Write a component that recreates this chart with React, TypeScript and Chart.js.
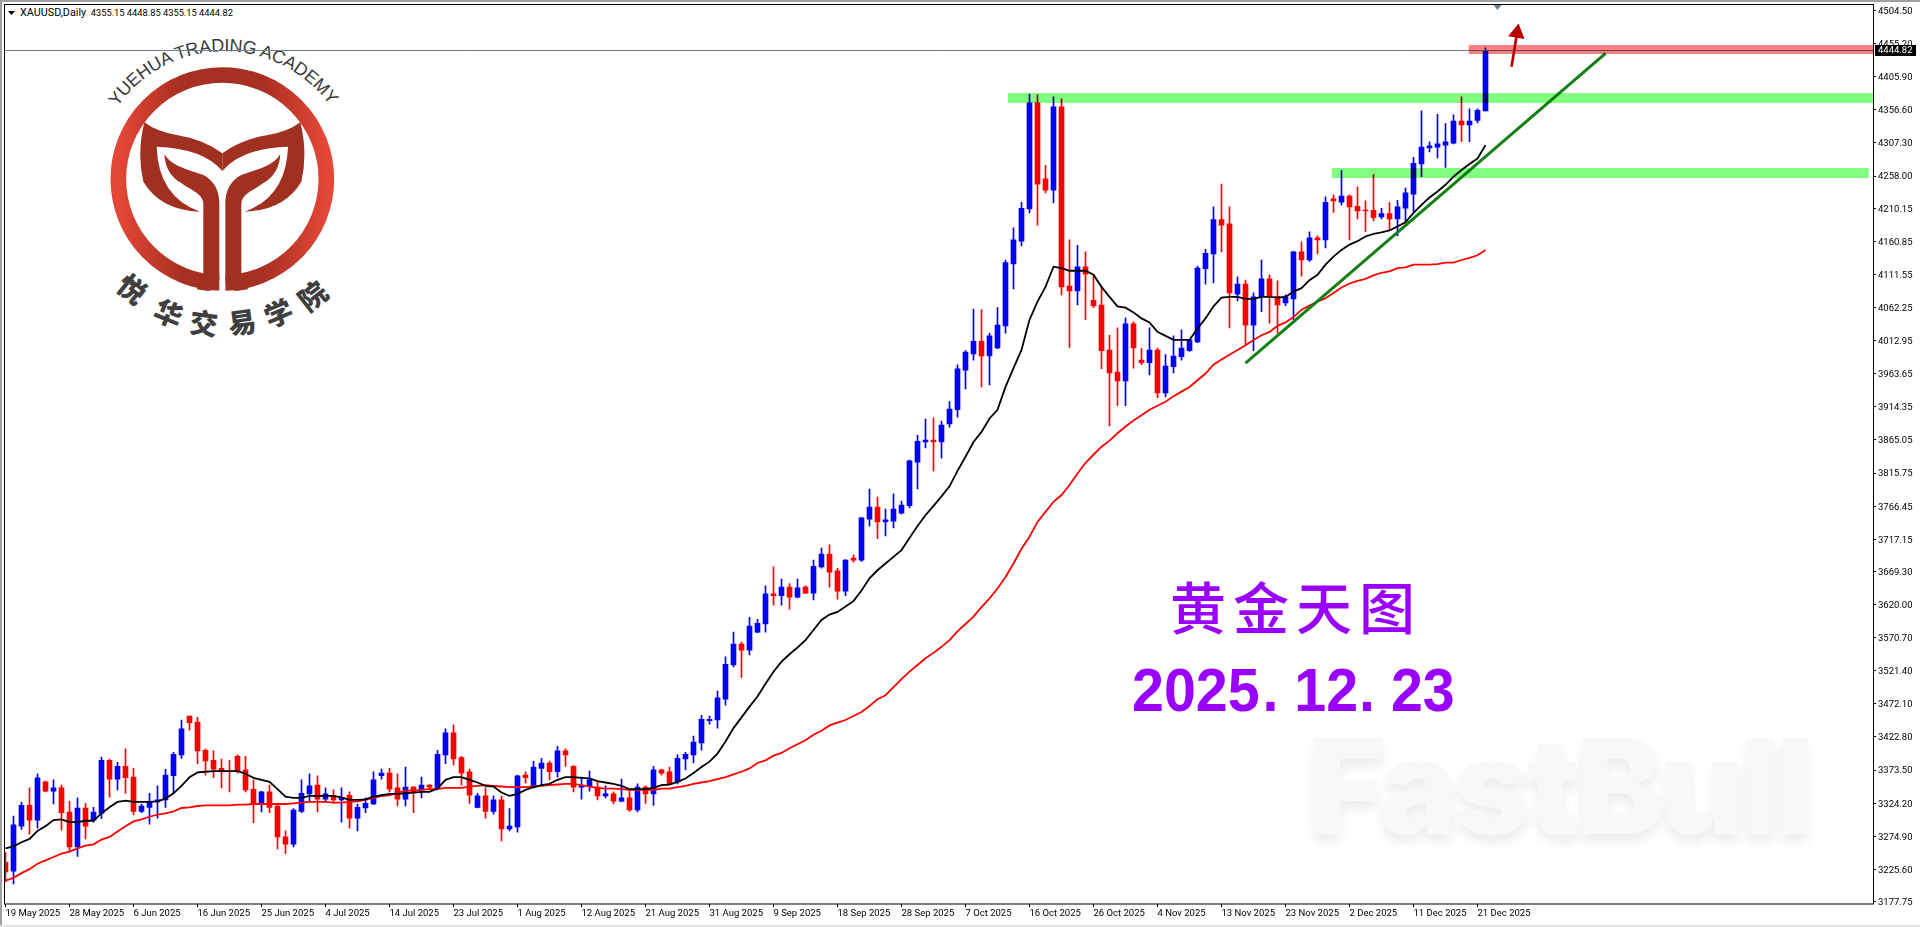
import React, { useEffect, useRef } from 'react';
import { Chart, registerables } from 'chart.js';

Chart.register(...registerables);

const opens = [
  3236,3223,3290,3321,3299,3356,3342,3347,3311,3259,
  3317,3299,3309,3388,3360,3379,3363,3312,3318,3326,
  3329,3365,3396,3454,3445,3403,3388,3376,3372,3394,
  3374,3345,3324,3341,3320,3274,3263,3312,3338,3351,
  3330,3335,3329,3336,3302,3317,3323,3365,3369,3347,
  3330,3348,3344,3351,3347,3396,3429,3392,3371,3318,
  3335,3312,3329,3286,3289,3366,3348,3376,3384,3371,
  3402,3379,3348,3350,3348,3335,3338,3327,3332,3314,
  3348,3338,3374,3371,3356,3390,3396,3414,3447,3448,
  3479,3530,3561,3552,3579,3591,3636,3633,3646,3631,
  3646,3637,3676,3695,3670,3640,3689,3686,3747,3765,
  3743,3744,3756,3767,3832,3862,3865,3862,3889,3910,
  3969,3993,4012,3990,4002,4035,4127,4161,4209,4367,
  4254,4237,4361,4094,4087,4123,4073,4066,3999,3966,
  3953,4038,3984,3980,3999,3935,3974,3989,3998,4011,
  4120,4142,4193,4187,4082,4097,4036,4078,4105,4079,
  4069,4075,4145,4133,4166,4163,4224,4219,4228,4213,
  4207,4207,4197,4202,4194,4210,4231,4276,4300,4301,
  4304,4307,4340,4334,4341,4355.15,
];

const highs = [
  3251,3305,3326,3347,3368,3357,3359,3351,3327,3332,
  3324,3318,3393,3390,3385,3405,3376,3323,3339,3350,
  3375,3400,3448,3454,3452,3405,3402,3390,3388,3396,
  3394,3359,3342,3351,3321,3283,3316,3359,3368,3365,
  3347,3344,3347,3341,3323,3332,3371,3375,3376,3368,
  3378,3349,3363,3352,3403,3435,3441,3394,3375,3339,
  3347,3335,3335,3316,3366,3371,3387,3391,3387,3409,
  3405,3380,3363,3372,3357,3350,3341,3360,3344,3353,
  3350,3379,3375,3378,3396,3400,3424,3455,3454,3491,
  3542,3579,3564,3601,3598,3648,3676,3658,3651,3658,
  3648,3686,3704,3709,3674,3687,3694,3750,3792,3780,
  3762,3785,3774,3835,3872,3896,3898,3893,3922,3977,
  3998,4060,4059,4024,4062,4133,4181,4219,4380,4379,
  4274,4376,4373,4163,4155,4145,4109,4094,4021,4032,
  4047,4041,4001,4032,4002,3992,4020,4029,4015,4124,
  4149,4212,4246,4212,4108,4103,4084,4133,4111,4102,
  4081,4146,4160,4175,4169,4227,4230,4266,4230,4242,
  4221,4260,4210,4219,4222,4240,4286,4355,4309,4350,
  4336,4349,4376,4358,4358,4448.85,
];

const lows = [
  3207,3204,3285,3278,3287,3341,3323,3284,3253,3245,
  3271,3296,3301,3333,3344,3339,3307,3310,3293,3302,
  3318,3339,3391,3433,3383,3366,3362,3347,3341,3369,
  3341,3295,3311,3310,3256,3249,3259,3310,3327,3311,
  3326,3324,3296,3287,3283,3310,3322,3360,3341,3320,
  3320,3310,3332,3344,3344,3383,3381,3351,3324,3317,
  3302,3308,3268,3283,3281,3354,3347,3351,3359,3363,
  3379,3341,3330,3342,3329,3332,3323,3326,3312,3311,
  3324,3321,3366,3353,3353,3374,3384,3403,3442,3436,
  3470,3527,3511,3545,3578,3579,3619,3619,3613,3630,
  3636,3627,3674,3646,3628,3633,3683,3684,3737,3718,
  3722,3734,3755,3764,3792,3853,3819,3838,3884,3899,
  3941,3984,3944,3947,4001,4024,4090,4154,4203,4185,
  4233,4218,4081,4003,4066,4044,4062,3971,3886,3916,
  3916,3972,3977,3962,3928,3929,3965,3984,3997,4010,
  4097,4099,4145,4032,4072,4006,3998,4056,4039,4024,
  4065,4044,4109,4131,4142,4151,4204,4215,4163,4194,
  4175,4191,4194,4178,4169,4190,4204,4257,4294,4285,
  4271,4306,4309,4309,4337,4355.15,
];

const closes = [
  3222,3292,3321,3299,3362,3342,3347,3310,3259,3317,
  3290,3311,3388,3360,3379,3362,3312,3320,3326,3329,
  3366,3397,3435,3444,3402,3387,3375,3372,3371,3371,
  3344,3324,3341,3318,3274,3263,3314,3339,3350,3330,
  3338,3329,3333,3302,3318,3324,3359,3369,3345,3330,
  3348,3341,3351,3348,3397,3429,3390,3369,3336,3335,
  3312,3329,3286,3290,3365,3362,3378,3384,3371,3402,
  3396,3348,3350,3359,3335,3338,3327,3332,3314,3348,
  3338,3374,3369,3354,3391,3397,3415,3449,3449,3481,
  3531,3561,3552,3588,3592,3636,3633,3646,3631,3645,
  3637,3677,3695,3668,3640,3686,3686,3749,3765,3743,
  3746,3762,3768,3834,3863,3865,3862,3887,3911,3971,
  3996,4012,3990,4020,4036,4129,4163,4210,4367,4246,
  4237,4361,4093,4087,4123,4112,4065,3998,3965,3953,
  4038,4002,3980,3999,3935,3975,3990,4002,4014,4121,
  4143,4193,4185,4084,4097,4036,4078,4105,4079,4066,
  4078,4145,4133,4166,4163,4219,4221,4228,4212,4206,
  4206,4196,4202,4194,4212,4233,4277,4301,4303,4306,
  4309,4340,4334,4340,4356,4444.82,
];

const fastMa = [
  3257,3260,3266,3271,3283,3290,3299,3300,3296,3296,
  3298,3298,3309,3318,3326,3328,3326,3326,3326,3327,
  3331,3339,3350,3363,3370,3371,3372,3372,3372,3372,
  3368,3362,3359,3356,3345,3334,3332,3332,3335,3335,
  3335,3335,3333,3329,3329,3330,3334,3336,3338,3338,
  3339,3340,3341,3341,3346,3359,3363,3363,3359,3355,
  3350,3349,3340,3335,3338,3344,3348,3351,3353,3359,
  3363,3363,3362,3361,3357,3355,3353,3350,3345,3345,
  3345,3347,3351,3352,3356,3361,3369,3378,3386,3398,
  3416,3436,3452,3468,3483,3502,3520,3535,3546,3556,
  3567,3582,3597,3605,3609,3617,3625,3641,3659,3671,
  3681,3691,3701,3719,3737,3753,3767,3781,3796,3819,
  3840,3862,3877,3897,3910,3944,3972,3999,4044,4071,
  4093,4123,4121,4117,4117,4117,4111,4093,4078,4064,
  4062,4055,4046,4040,4026,4020,4014,4014,4014,4031,
  4046,4064,4077,4078,4078,4075,4075,4078,4078,4077,
  4078,4086,4091,4103,4111,4126,4138,4148,4156,4161,
  4168,4172,4174,4177,4183,4189,4203,4215,4226,4235,
  4245,4257,4267,4276,4284,4304,
];

const slowMa = [
  3209,3213,3220,3226,3234,3239,3244,3249,3252,3257,
  3261,3263,3270,3274,3282,3290,3297,3300,3304,3307,
  3309,3312,3317,3318,3320,3321,3321,3321,3321,3322,
  3322,3323,3323,3323,3323,3323,3324,3325,3326,3326,
  3326,3325,3325,3326,3327,3329,3332,3335,3336,3340,
  3343,3343,3344,3345,3345,3347,3347,3347,3349,3350,
  3351,3350,3349,3348,3348,3348,3349,3350,3351,3352,
  3353,3353,3351,3349,3347,3346,3346,3345,3344,3344,
  3344,3344,3346,3346,3348,3350,3353,3355,3357,3360,
  3363,3367,3371,3376,3384,3388,3395,3399,3406,3412,
  3418,3426,3432,3440,3444,3448,3454,3460,3469,3479,
  3485,3497,3509,3520,3530,3540,3548,3557,3567,3580,
  3591,3602,3616,3629,3644,3661,3681,3703,3721,3743,
  3758,3773,3783,3798,3815,3831,3843,3855,3864,3875,
  3885,3894,3902,3910,3916,3922,3930,3937,3944,3954,
  3964,3977,3985,3992,3999,4006,4014,4021,4026,4035,
  4040,4048,4059,4065,4071,4076,4084,4092,4098,4102,
  4105,4110,4114,4116,4121,4122,4126,4126,4126,4127,
  4129,4129,4133,4136,4140,4148,
];

const priceTicks = [
  3177.75,3225.6,3274.9,3324.2,3373.5,3422.8,3472.1,3521.4,3570.7,3620,
  3669.3,3717.15,3766.45,3815.75,3865.05,3914.35,3963.65,4012.95,4062.25,4111.55,
  4160.85,4210.15,4258,4307.3,4356.6,4405.9,4455.2,4504.5,
];

const dateLabels = [
  '19 May 2025','28 May 2025','6 Jun 2025','16 Jun 2025','25 Jun 2025','4 Jul 2025',
  '14 Jul 2025','23 Jul 2025','1 Aug 2025','12 Aug 2025','21 Aug 2025','31 Aug 2025',
  '9 Sep 2025','18 Sep 2025','28 Sep 2025','7 Oct 2025','16 Oct 2025','26 Oct 2025',
  '4 Nov 2025','13 Nov 2025','23 Nov 2025','2 Dec 2025','11 Dec 2025','21 Dec 2025',
];

const barsPerLabel = 8;
const lastPrice = 4444.82;
const trendBars = [155, 200];
const trendPrices = [3979.6, 4440.8];
const arrowBars = [188.25, 188.95];
const arrowPrices = [4420.8, 4471.1];

// from bar, to bar, top price, bottom price, colour
const zones: [number, number, number, number, string][] = [
  [125.3, 233.5, 4381.6, 4366.8, '#80FF80'],
  [165.8, 232.9, 4270, 4255, '#80FF80'],
  [182.9, 233.5, 4453.1, 4439.7, '#FF8080'],
];

const logoChars: [string, number, number, number][] = [
  ['悦', 399, 864, 39],
  ['华', 507, 936, 22],
  ['交', 612, 966, 7.5],
  ['易', 726, 963, -8],
  ['学', 834, 936, -23],
  ['院', 936, 885, -38],
];

const tickFont = { family: 'Roboto', size: 9.5 };

const overlayPlugin = {
  id: 'overlay',
  afterDatasetsDraw(chart: any) {
    const { ctx, scales, chartArea } = chart;
    const y = Math.floor(scales.y.getPixelForValue(lastPrice)) + 0.5;
    ctx.save();
    ctx.strokeStyle = '#708090';
    ctx.lineWidth = 1;
    ctx.beginPath();
    ctx.moveTo(chartArea.left, y);
    ctx.lineTo(chartArea.right, y);
    ctx.stroke();

    // the boxes tint whatever lies under them, blue candles go navy
    ctx.globalCompositeOperation = 'multiply';
    zones.forEach(([from, to, top, bottom, color]) => {
      const x0 = scales.x.getPixelForValue(from);
      const x1 = Math.min(scales.x.getPixelForValue(to), chartArea.right);
      const y0 = scales.y.getPixelForValue(top);
      const y1 = scales.y.getPixelForValue(bottom);
      ctx.fillStyle = color;
      ctx.fillRect(x0, y0, x1 - x0, y1 - y0);
    });
    ctx.restore();
  },
  afterDraw(chart: any) {
    const { ctx, scales } = chart;
    ctx.save();
    ctx.strokeStyle = '#000';
    ctx.lineWidth = 1;
    ctx.strokeRect(4.5, 4.5, 1869, 899.5);

    // drop-down arrow next to the symbol title
    ctx.fillStyle = '#000';
    ctx.beginPath();
    ctx.moveTo(8, 11);
    ctx.lineTo(15, 11);
    ctx.lineTo(11.5, 15);
    ctx.closePath();
    ctx.fill();

    // chart shift marker
    const sx = scales.x.getPixelForValue(186.5);
    ctx.fillStyle = '#708090';
    ctx.beginPath();
    ctx.moveTo(sx - 4, 5);
    ctx.lineTo(sx + 4, 5);
    ctx.lineTo(sx, 10);
    ctx.closePath();
    ctx.fill();

    // current price tag on the axis
    const py = scales.y.getPixelForValue(lastPrice);
    ctx.fillStyle = '#000';
    ctx.fillRect(1875, Math.round(py) - 6, 41, 11);
    ctx.fillStyle = '#fff';
    ctx.font = '9.5px Roboto';
    ctx.textBaseline = 'middle';
    ctx.fillText(lastPrice.toFixed(2), 1878, py);
    ctx.restore();
  },
};

const App: React.FC = () => {
  const canvasRef = useRef<HTMLCanvasElement>(null);

  useEffect(() => {
    document.body.style.margin = '0';
    document.body.style.background = '#fff';
    if (!canvasRef.current) return;

    const indexes = opens.map((_, i) => i);
    const barColors = indexes.map((i) => (closes[i] >= opens[i] ? '#0000FF' : '#FF0000'));

    const chart = new Chart(canvasRef.current, {
      type: 'bar',
      data: {
        datasets: [
          {
            type: 'line',
            label: 'trend',
            data: trendBars.map((x, i) => ({ x, y: trendPrices[i] })),
            borderColor: '#137F13',
            borderWidth: 3,
            pointRadius: 0,
            order: 0,
          },
          {
            type: 'line',
            label: 'arrow',
            data: arrowBars.map((x, i) => ({ x, y: arrowPrices[i] })),
            borderColor: '#B80000',
            backgroundColor: '#B80000',
            borderWidth: 2.6,
            pointStyle: 'triangle',
            pointRadius: [0, 9.6],
            pointRotation: 9,
            pointBorderWidth: 0,
            clip: false,
            order: 0,
          },
          {
            type: 'line',
            label: 'fast',
            data: indexes.map((i) => ({ x: i, y: fastMa[i] })),
            borderColor: '#000000',
            borderWidth: 1.8,
            pointRadius: 0,
            order: 1,
          },
          {
            type: 'line',
            label: 'slow',
            data: indexes.map((i) => ({ x: i, y: slowMa[i] })),
            borderColor: '#FF0000',
            borderWidth: 1.8,
            pointRadius: 0,
            order: 2,
          },
          {
            label: 'body',
            data: indexes.map((i) => ({ x: i, y: [opens[i], closes[i]] })),
            backgroundColor: barColors,
            barThickness: 5,
            grouped: false,
            borderSkipped: false,
            minBarLength: 1,
            order: 3,
          },
          {
            label: 'wick',
            data: indexes.map((i) => ({ x: i, y: [lows[i], highs[i]] })),
            backgroundColor: barColors,
            barThickness: 1,
            grouped: false,
            borderSkipped: false,
            order: 4,
          },
        ] as any,
      },
      plugins: [overlayPlugin],
      options: {
        animation: false,
        responsive: false,
        events: [],
        layout: { autoPadding: false, padding: { left: 4.5, top: 4.5, right: 0, bottom: 0 } },
        plugins: { legend: { display: false }, tooltip: { enabled: false } },
        scales: {
          x: {
            type: 'linear',
            offset: false,
            min: -0.125,
            max: 233.4375,
            border: { display: false },
            grid: { drawOnChartArea: false, tickLength: 3, tickColor: '#000', offset: false },
            afterBuildTicks: (scale: any) => {
              scale.ticks = dateLabels.map((_, k) => ({ value: k * barsPerLabel }));
            },
            afterFit: (scale: any) => {
              scale.height = 23;
              scale.paddingLeft = 0;
              scale.paddingRight = 0;
            },
            ticks: {
              autoSkip: false,
              maxRotation: 0,
              align: 'start',
              padding: 1,
              color: '#000',
              font: tickFont,
              callback: (value: any) => dateLabels[value / barsPerLabel],
            },
          },
          y: {
            type: 'linear',
            position: 'right',
            min: 3174.07,
            max: 4513.43,
            border: { display: false },
            grid: { drawOnChartArea: false, tickLength: 3, tickColor: '#000' },
            afterBuildTicks: (scale: any) => {
              scale.ticks = priceTicks.map((value) => ({ value }));
            },
            afterFit: (scale: any) => {
              scale.width = 47;
              scale.paddingTop = 0;
              scale.paddingBottom = 0;
            },
            ticks: {
              autoSkip: false,
              padding: 2,
              labelOffset: 1,
              color: '#000',
              font: tickFont,
              callback: (value: any) => Number(value).toFixed(2),
            },
          },
        },
      } as any,
    });

    return () => {
      chart.destroy();
    };
  }, []);

  return (
    <div style={{ position: 'relative', width: 1920, height: 927, overflow: 'hidden', background: '#fff' }}>
      {/* window edges */}
      <div style={{ position: 'absolute', left: 0, top: 0, width: 2, height: 927, background: '#A0A0A0' }} />
      <div style={{ position: 'absolute', left: 0, top: 0, width: 1920, height: 2, background: '#A0A0A0' }} />
      <div style={{ position: 'absolute', left: 0, top: 925, width: 1920, height: 2, background: '#E4E4E4' }} />

      {/* watermark */}
      <div
        style={{
          position: 'absolute',
          left: 1308,
          top: 706,
          fontFamily: 'Inter',
          fontWeight: 900,
          fontSize: 132,
          lineHeight: '160px',
          color: '#F8F8F8',
          textShadow: '0 8px 12px #EDEDED',
          letterSpacing: -4.5,
          whiteSpace: 'nowrap',
        }}
      >
        FastBull
      </div>

      {/* logo */}
      <svg
        viewBox="0 0 1200 1080"
        width={400}
        height={360}
        style={{ position: 'absolute', left: 0, top: 0 }}
      >
        <defs>
          <linearGradient id="ringFill" x1="0" x2="1" y1="0" y2="0">
            <stop offset="0" stopColor="#E54736" />
            <stop offset="0.3" stopColor="#A83022" />
            <stop offset="0.7" stopColor="#A83022" />
            <stop offset="1" stopColor="#E54736" />
          </linearGradient>
          <path id="logoArc" d="M 352 321 A 390 390 0 0 1 992 321" />
          <path
            id="logoHalf"
            d="M433 367 Q470 395 530 405 Q610 418 667 460 L667 513 Q610 445 470 440 Q475 590 600 635 Q480 630 430 545 Q410 460 433 367 Z M493 462 C515 500 570 510 610 525 C640 540 658 570 658 610 L658 840 Q650 870 625 873 L590 868 L610 822 L610 610 C608 580 570 570 545 550 C510 530 495 500 493 462 Z"
          />
        </defs>
        <circle cx="667" cy="537" r="312" fill="none" stroke="url(#ringFill)" strokeWidth="47" />
        <rect x="658" y="800" width="18" height="90" fill="#fff" />
        <use href="#logoHalf" fill="#A03020" />
        <use href="#logoHalf" fill="#A03020" transform="matrix(-1 0 0 1 1334 0)" />
        <text fontFamily="Liberation Sans" fontSize="54" fill="#3A3A3A">
          <textPath href="#logoArc" textLength="745">
            YUEHUA TRADING ACADEMY
          </textPath>
        </text>
        {logoChars.map(([ch, x, y, rot]) => (
          <text
            key={ch}
            x={x}
            y={y}
            fontFamily="Noto Sans CJK SC"
            fontWeight={900}
            fontSize={84}
            fill="#3F3F3F"
            textAnchor="middle"
            dominantBaseline="central"
            transform={`rotate(${rot} ${x} ${y})`}
          >
            {ch}
          </text>
        ))}
      </svg>

      {/* symbol title */}
      <div
        style={{
          position: 'absolute',
          left: 20,
          top: 6,
          fontFamily: 'Roboto',
          fontSize: 9.3,
          lineHeight: '13px',
          color: '#000',
          whiteSpace: 'pre',
        }}
      >
        <span style={{ fontSize: 10.8 }}>XAUUSD,Daily</span>
        {'  4355.15 4448.85 4355.15 4444.82'}
      </div>

      {/* headline */}
      <div
        style={{
          position: 'absolute',
          left: 1170,
          top: 565,
          fontFamily: 'Noto Sans CJK SC',
          fontWeight: 500,
          fontSize: 56,
          lineHeight: '80px',
          letterSpacing: 7,
          color: '#9900FF',
          whiteSpace: 'nowrap',
        }}
      >
        黄金天图
      </div>
      <div
        style={{
          position: 'absolute',
          left: 1132,
          top: 650,
          fontFamily: 'Liberation Sans',
          fontWeight: 700,
          fontSize: 61,
          lineHeight: '80px',
          color: '#9900FF',
          whiteSpace: 'nowrap',
          transform: 'scaleX(0.94)',
          transformOrigin: 'left top',
        }}
      >
        2025<span style={{ marginLeft: 3, letterSpacing: 17 }}>.</span>12<span style={{ marginLeft: 1, letterSpacing: 17 }}>.</span>23
      </div>

      <canvas ref={canvasRef} width={1920} height={927} style={{ position: 'absolute', left: 0, top: 0, display: 'block' }} />
    </div>
  );
};

export default App;
